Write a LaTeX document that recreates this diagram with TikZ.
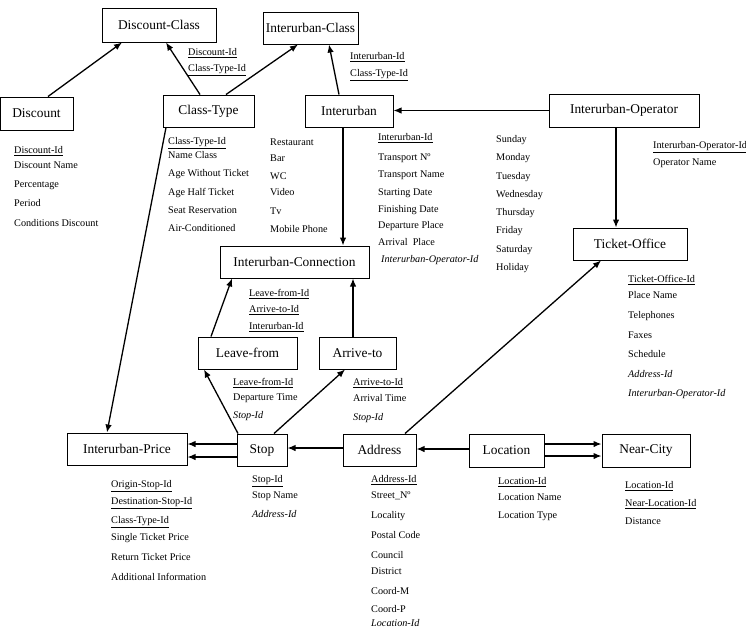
\documentclass[tikz,border=0pt]{standalone}
\usepackage{fontspec}
\setmainfont{Liberation Serif}
\usetikzlibrary{arrows.meta}
\tikzset{
  entity/.style={draw, line width=1pt, inner sep=0pt, font=\fontsize{13.4}{16}\selectfont},
  attr/.style={anchor=base west, inner sep=0pt, yshift=-3.5pt, font=\fontsize{10.2}{12}\selectfont},
  rel/.style={->, line width=1.3pt}
}
\begin{document}
\begin{tikzpicture}[x=1pt, y=-1pt, >={Latex[length=8pt,width=6.5pt]}]
   \useasboundingbox (0,0) rectangle (746,630);
   % Entities
   \node[entity, minimum width=114pt, minimum height=34pt] (dclass) at (159,25) {Discount-Class};
   \node[entity, minimum width=95pt, minimum height=32pt] (iclass) at (310.5,28) {Interurban-Class};
   \node[entity, minimum width=73pt, minimum height=33pt] (disc) at (36.5,113.5) {Discount};
   \node[entity, minimum width=91pt, minimum height=32pt] (ctype) at (208.5,111) {Class-Type};
   \node[entity, minimum width=88pt, minimum height=32pt] (inter) at (349,111) {Interurban};
   \node[entity, minimum width=150pt, minimum height=33pt] (iop) at (624,110.5) {Interurban-Operator};
   \node[entity, minimum width=114pt, minimum height=32pt] (toff) at (630,244) {Ticket-Office};
   \node[entity, minimum width=149pt, minimum height=32pt] (icon) at (294.5,262) {Interurban-Connection};
   \node[entity, minimum width=99pt, minimum height=32pt] (leave) at (247.5,353) {Leave-from};
   \node[entity, minimum width=77pt, minimum height=32pt] (arrive) at (357.5,353) {Arrive-to};
   \node[entity, minimum width=120pt, minimum height=32pt] (iprice) at (127,449) {Interurban-Price};
   \node[entity, minimum width=50pt, minimum height=32pt] (stop) at (262,450) {Stop};
   \node[entity, minimum width=73pt, minimum height=32pt] (addr) at (379.5,450) {Address};
   \node[entity, minimum width=75pt, minimum height=33pt] (loc) at (506.5,450.5) {Location};
   \node[entity, minimum width=88pt, minimum height=33pt] (near) at (646,450.5) {Near-City};
   %
   % Relations
   \draw[rel] ([xshift=11.5pt]disc.north) -- ([xshift=-37pt]dclass.south);
   \draw[rel] ([xshift=-8.5pt]ctype.north) -- ([xshift=7pt]dclass.south);
   \draw[rel] ([xshift=17.5pt]ctype.north) -- ([xshift=-12.5pt]iclass.south);
   \draw[rel] ([xshift=-10pt]inter.north) -- ([xshift=18.5pt]iclass.south);
   \draw[rel] (iop.west) -- (iop.west -| inter.east);
   \draw[rel] ([xshift=-6pt]inter.south) -- ([xshift=48.5pt]icon.north);
   \draw[rel] ([xshift=-8pt]iop.south) -- ([xshift=-14pt]toff.north);
   \draw[rel] ([xshift=-42.5pt]ctype.south) -- ([xshift=-20pt]iprice.north);
   \draw[rel] ([xshift=-36.5pt]leave.north) -- ([xshift=-62.5pt]icon.south);
   \draw[rel] ([xshift=-4.5pt]arrive.north) -- ([xshift=58.5pt]icon.south);
   \draw[rel] ([xshift=-24pt]stop.north) -- ([xshift=-43.5pt]leave.south);
   \draw[rel] ([xshift=12pt]stop.north) -- ([xshift=-12.5pt]arrive.south);
   \draw[rel] ([xshift=25.5pt]addr.north) -- ([xshift=-29pt]toff.south);
   \draw[rel] ([yshift=6pt]stop.west) -- ([yshift=5pt]iprice.east);
   \draw[rel] ([yshift=-7pt]stop.west) -- ([yshift=-8pt]iprice.east);
   \draw[rel] ([yshift=2pt]addr.west) -- ([yshift=2pt]stop.east);
   \draw[rel] ([yshift=1.5pt]loc.west) -- ([yshift=1pt]addr.east);
   \draw[rel] ([yshift=6.5pt]loc.east) -- ([yshift=6.5pt]near.west);
   \draw[rel] ([yshift=-5.5pt]loc.east) -- ([yshift=-5.5pt]near.west);
   %
   % Attributes
   \foreach \y/\t [count=\i] in {150/\underline{Discount-Id}, 165/Discount Name, 184/Percentage,
      203/Period, 223/Conditions Discount}
      \node[attr] (disc\i) at (14,\y) {\t};
   \foreach \y/\t [count=\i] in {52/\underline{Discount-Id}, 68/\underline{Class-Type-Id}}
      \node[attr] (dclass\i) at (188,\y) {\t};
   \foreach \y/\t [count=\i] in {56/\underline{Interurban-Id}, 73/\underline{Class-Type-Id}}
      \node[attr] (iclass\i) at (350,\y) {\t};
   \foreach \y/\t [count=\i] in {141/\underline{Class-Type-Id}, 155/Name Class, 173/Age Without Ticket,
      192/Age Half Ticket, 210/Seat Reservation, 228/Air-Conditioned}
      \node[attr] (ctype\i) at (168,\y) {\t};
   \foreach \y/\t [count=\i] in {142/Restaurant, 158/Bar, 176/WC, 192/Video, 211/Tv, 229/Mobile Phone}
      \node[attr] (extra\i) at (270,\y) {\t};
   \foreach \y/\t [count=\i] in {137/\underline{Interurban-Id}, 157/Transport Nº, 174/Transport Name,
      192/Starting Date, 209/Finishing Date, 225/Departure Place, 242/Arrival\ \ Place}
      \node[attr] (inter\i) at (378,\y) {\t};
   \node[attr] (inter8) at (381,259) {\textit{Interurban-Operator-Id}};
   \foreach \y/\t [count=\i] in {139/Sunday, 157/Monday, 176/Tuesday, 194/Wednesday, 212/Thursday,
      230/Friday, 249/Saturday, 267/Holiday}
      \node[attr] (day\i) at (496,\y) {\t};
   \foreach \y/\t [count=\i] in {145/\underline{Interurban-Operator-Id}, 162/Operator Name}
      \node[attr] (iop\i) at (653,\y) {\t};
   \foreach \y/\t [count=\i] in {279/\underline{Ticket-Office-Id}, 295/Place Name, 315/Telephones,
      335/Faxes, 354/Schedule, 374/\textit{Address-Id}, 393/\textit{Interurban-Operator-Id}}
      \node[attr] (toff\i) at (628,\y) {\t};
   \foreach \y/\t [count=\i] in {293/\underline{Leave-from-Id}, 309/\underline{Arrive-to-Id},
      326/\underline{Interurban-Id}}
      \node[attr] (icon\i) at (249,\y) {\t};
   \foreach \y/\t [count=\i] in {382/\underline{Leave-from-Id}, 397/Departure Time, 415/\textit{Stop-Id}}
      \node[attr] (leave\i) at (233,\y) {\t};
   \foreach \y/\t [count=\i] in {382/\underline{Arrive-to-Id}, 398/Arrival Time, 417/\textit{Stop-Id}}
      \node[attr] (arrive\i) at (353,\y) {\t};
   \foreach \y/\t [count=\i] in {484/\underline{Origin-Stop-Id}, 501/\underline{Destination-Stop-Id},
      520/\underline{Class-Type-Id}, 537/Single Ticket Price, 557/Return Ticket Price,
      577/Additional Information}
      \node[attr] (iprice\i) at (111,\y) {\t};
   \foreach \y/\t [count=\i] in {479/\underline{Stop-Id}, 495/Stop Name, 514/\textit{Address-Id}}
      \node[attr] (stop\i) at (252,\y) {\t};
   \foreach \y/\t [count=\i] in {479/\underline{Address-Id}, 495/Street\_Nº, 515/Locality,
      535/Postal Code, 555/Council, 571/District, 591/Coord-M, 609/Coord-P,
      623/\textit{Location-Id}}
      \node[attr] (addr\i) at (371,\y) {\t};
   \foreach \y/\t [count=\i] in {481/\underline{Location-Id}, 497/Location Name, 515/Location Type}
      \node[attr] (loc\i) at (498,\y) {\t};
   \foreach \y/\t [count=\i] in {485/\underline{Location-Id}, 503/\underline{Near-Location-Id}, 521/Distance}
      \node[attr] (near\i) at (625,\y) {\t};
\end{tikzpicture}
\end{document}
